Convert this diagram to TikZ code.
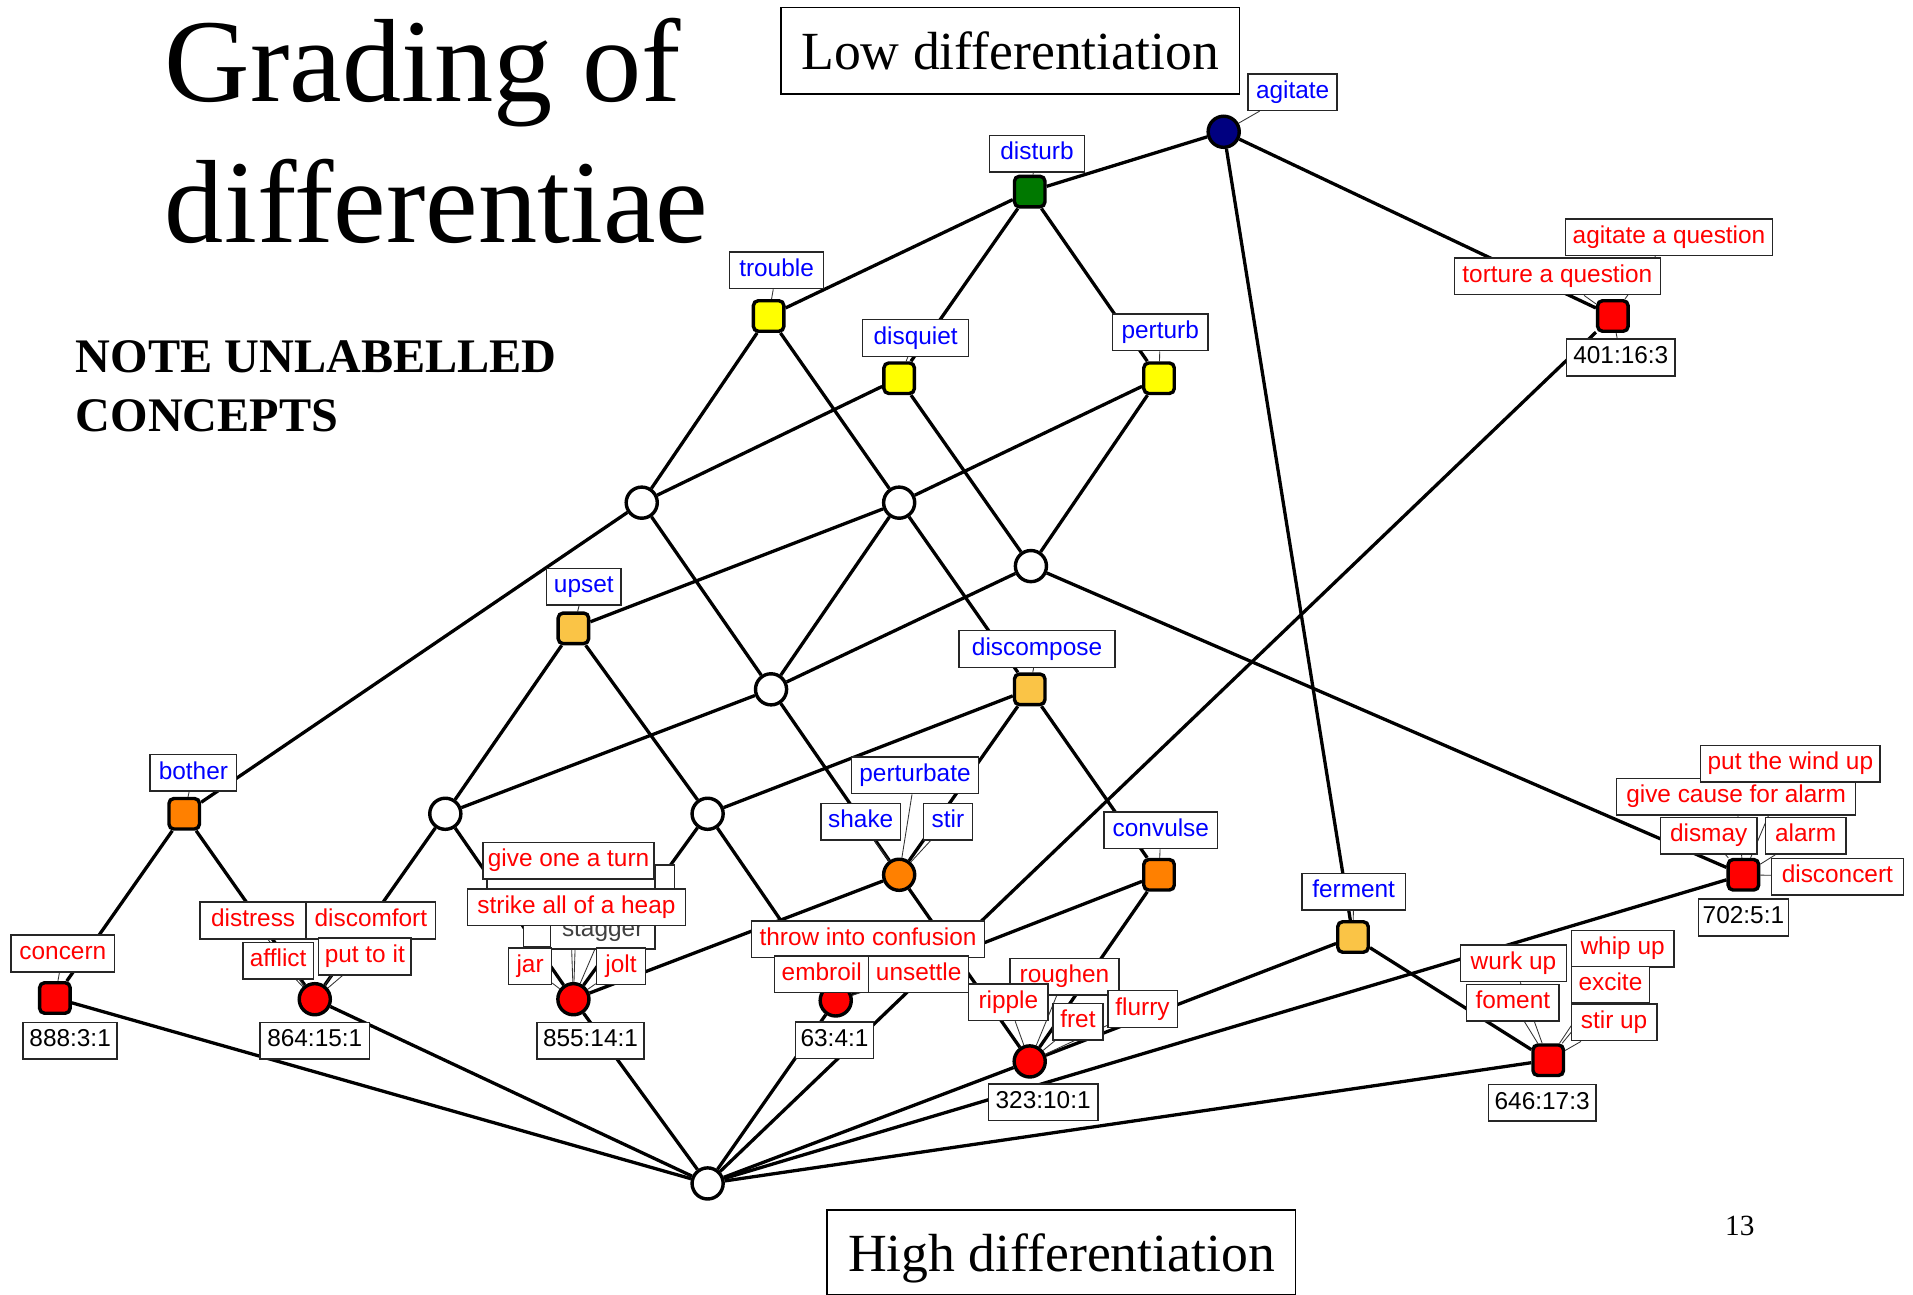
\documentclass[tikz,border=0pt]{standalone}
\usepackage{fontspec}
\setmainfont{Liberation Serif}
\newfontfamily\labfont{Liberation Sans}
\pgfdeclarelayer{bglayer}
\pgfdeclarelayer{edgelayer}
\pgfsetlayers{bglayer,edgelayer,main}
\definecolor{cyel}{RGB}{255,255,0}
\definecolor{cgreen}{RGB}{0,120,0}
\definecolor{cnavy}{RGB}{0,0,128}
\definecolor{clor}{RGB}{250,196,70}
\definecolor{cor}{RGB}{255,128,0}
\definecolor{cred}{RGB}{255,0,0}
\definecolor{cblue}{RGB}{0,0,255}
\tikzset{
 conn/.style={line width=2.7pt, black},
 leader/.style={line width=0.7pt, black!80},
 sq/.style={draw, line width=2.8pt, rounded corners=4pt, minimum size=25pt, inner sep=0pt},
 cir/.style={draw, circle, line width=2.8pt, minimum size=25.5pt, inner sep=0pt},
 lab/.style={draw=black!85, line width=1.2pt, fill=white, font=\labfont\fontsize{20}{20}\selectfont, minimum height=30pt, inner xsep=2pt, inner ysep=0pt, text height=14.5pt, text depth=4.5pt},
 bl/.style={lab, text=cblue},
 rd/.style={lab, text=cred},
 ct/.style={lab, text=black},
 bigbox/.style={draw=black, line width=1.3pt, inner sep=0pt, text depth=0pt, font=\fontsize{44}{44}\selectfont}
}
\begin{document}
\begin{tikzpicture}[x=1pt,y=-1pt]
\begin{pgfonlayer}{bglayer}
\fill[white] (0,0) rectangle (1568,1061);
\end{pgfonlayer}
\useasboundingbox (0,0) rectangle (1568,1061);

% titles
\node[anchor=base west, inner sep=0pt, font=\fontsize{97}{97}\selectfont] (t1) at (135,83) {Grading of};
\node[anchor=base west, inner sep=0pt, font=\fontsize{97}{97}\selectfont] (t2) at (135,199) {differentiae};
\node[anchor=base west, inner sep=0pt, font=\bfseries\fontsize{39.5}{39.5}\selectfont] (n1) at (62,305) {NOTE UNLABELLED};
\node[anchor=base west, inner sep=0pt, font=\bfseries\fontsize{39.5}{39.5}\selectfont] (n2) at (62,354) {CONCEPTS};
\node[bigbox, minimum width=376pt, minimum height=71pt] (low) at (828,41.5) {Low differentiation};
\node[bigbox, minimum width=384pt, minimum height=69pt] (high) at (870,1026.5) {High differentiation};
\node[font=\fontsize{24}{24}\selectfont, inner sep=0pt] (pg) at (1426,1005) {13};

% concept nodes
\node[cir, fill=cnavy] (agitate) at (1003,108) {};
\node[sq, fill=cgreen] (disturb) at (844,157) {};
\node[sq, fill=cyel] (trouble) at (630,259) {};
\node[sq, fill=cyel] (disquiet) at (737,310) {};
\node[sq, fill=cyel] (perturb) at (950,310) {};
\node[sq, fill=cred] (q401) at (1322,259) {};
\node[cir, fill=white] (u1) at (526,412) {};
\node[cir, fill=white] (u2) at (737,412) {};
\node[cir, fill=white] (u3) at (845,464) {};
\node[cir, fill=white] (u4) at (632,565) {};
\node[cir, fill=white] (u5) at (365,667) {};
\node[cir, fill=white] (u6) at (580,667) {};
\node[cir, fill=white] (bot) at (580,970) {};
\node[sq, fill=clor] (upset) at (470,515) {};
\node[sq, fill=clor] (discompose) at (844,565) {};
\node[sq, fill=cor] (bother) at (151,667) {};
\node[cir, fill=cor] (perturbate) at (737,717) {};
\node[sq, fill=cor] (convulse) at (950,717) {};
\node[sq, fill=clor] (ferment) at (1109,768) {};
\node[sq, fill=cred] (q702) at (1429,717) {};
\node[sq, fill=cred] (q888) at (45,818) {};
\node[cir, fill=cred] (q864) at (258,819) {};
\node[cir, fill=cred] (q855) at (470,819) {};
\node[cir, fill=cred] (q63) at (685,820) {};
\node[cir, fill=cred] (q323) at (844,870) {};
\node[sq, fill=cred] (q646) at (1269,869) {};

% blue labels
\node[bl, minimum width=73pt] (Lagitate) at (1059.5,75.5) {agitate};
\node[bl, minimum width=78pt] (Ldisturb) at (850,126) {disturb};
\node[bl, minimum width=77pt] (Ltrouble) at (636.5,221.5) {trouble};
\node[bl, minimum width=87pt] (Ldisquiet) at (750.5,277) {disquiet};
\node[bl, minimum width=78pt] (Lperturb) at (951,272.5) {perturb};
\node[bl, minimum width=61pt] (Lupset) at (478.5,481) {upset};
\node[bl, minimum width=128pt] (Ldiscompose) at (850,532) {discompose};
\node[bl, minimum width=71pt] (Lbother) at (158.5,633.5) {bother};
\node[bl, minimum width=104pt] (Lperturbate) at (750,635.5) {perturbate};
\node[bl, minimum width=65pt] (Lshake) at (705.5,673.5) {shake};
\node[bl, minimum width=40pt] (Lstir) at (777,673.5) {stir};
\node[bl, minimum width=93pt] (Lconvulse) at (951.5,680.5) {convulse};
\node[bl, minimum width=85pt] (Lferment) at (1109.5,731) {ferment};

% 401
\node[rd, minimum width=170pt] (Laq) at (1368,194.5) {agitate a question};
\node[rd, minimum width=169pt] (Ltq) at (1276.5,226.5) {torture a question};
\node[ct, minimum width=89pt] (C401) at (1328.5,293) {401:16:3};
% 702
\node[rd, minimum width=196pt] (Lgca) at (1423,653) {give cause for alarm};
\node[rd, minimum width=147pt] (Lptwu) at (1467.5,626) {put the wind up};
\node[rd, minimum width=79pt] (Ldismay) at (1400.5,685) {dismay};
\node[rd, minimum width=66pt] (Lalarm) at (1480,685) {alarm};
\node[rd, minimum width=108pt] (Ldisconcert) at (1506,718.5) {disconcert};
\node[ct, minimum width=74pt] (C702) at (1429,752) {702:5:1};
% 888
\node[rd, minimum width=85pt] (Lconcern) at (51.5,781.5) {concern};
\node[ct, minimum width=77pt] (C888) at (57.5,853) {888:3:1};
% 864
\node[rd, minimum width=87pt] (Ldistress) at (207.5,754.5) {distress};
\node[rd, minimum width=106pt] (Ldiscomfort) at (304,754.5) {discomfort};
\node[rd, minimum width=58pt] (Lafflict) at (228,787.5) {afflict};
\node[rd, minimum width=76pt] (Lputtoit) at (299,784) {put to it};
\node[ct, minimum width=90pt] (C864) at (258,853) {864:15:1};
% 855
\node[lab, minimum width=138pt] (Lhid1) at (468,726) {};
\node[lab, minimum width=16pt] (Lhid2) at (545,724) {};
\node[lab, minimum width=23pt] (Lhid3) at (440.5,761) {};
\node[ct, minimum width=86pt, text=black!75] (Lstagger) at (494,763) {stagger};
\node[rd, minimum width=140pt] (Lgoat) at (466,705.5) {give one a turn};
\node[rd, minimum width=179pt] (Lsaoah) at (472.5,743.5) {strike all of a heap};
\node[rd, minimum width=35pt] (Ljar) at (434.5,792) {jar};
\node[rd, minimum width=40pt] (Ljolt) at (509,792) {jolt};
\node[ct, minimum width=88pt] (C855) at (484,853) {855:14:1};
% 63
\node[rd, minimum width=191pt] (Ltic) at (711.5,770) {throw into confusion};
\node[rd, minimum width=77pt] (Lembroil) at (673.5,798.5) {embroil};
\node[rd, minimum width=82pt] (Lunsettle) at (753,798.5) {unsettle};
\node[ct, minimum width=64pt] (C63) at (684,852.5) {63:4:1};
% 323
\node[rd, minimum width=89pt] (Lroughen) at (872.5,800.5) {roughen};
\node[rd, minimum width=65pt] (Lripple) at (826.5,821.5) {ripple};
\node[rd, minimum width=41pt] (Lfret) at (883.5,837.5) {fret};
\node[rd, minimum width=57pt] (Lflurry) at (936.5,827) {flurry};
\node[ct, minimum width=90pt] (C323) at (855,903.5) {323:10:1};
% 646
\node[rd, minimum width=84pt] (Lwhip) at (1330,777.5) {whip up};
\node[rd, minimum width=64pt] (Lexcite) at (1320,807) {excite};
\node[rd, minimum width=70pt] (Lstirup) at (1323,838) {stir up};
\node[rd, minimum width=87pt] (Lwurk) at (1240.5,789.5) {wurk up};
\node[rd, minimum width=76pt] (Lfoment) at (1240,822) {foment};
\node[ct, minimum width=88pt] (C646) at (1264,904) {646:17:3};

\begin{pgfonlayer}{edgelayer}
% lattice edges
\draw[conn] (agitate) -- (disturb);
\draw[conn] (agitate) -- (q401);
\draw[conn] (agitate) -- (ferment);
\draw[conn] (disturb) -- (trouble);
\draw[conn] (disturb) -- (disquiet);
\draw[conn] (disturb) -- (perturb);
\draw[conn] (trouble) -- (u1);
\draw[conn] (trouble) -- (u2);
\draw[conn] (disquiet) -- (u1);
\draw[conn] (disquiet) -- (u3);
\draw[conn] (perturb) -- (u2);
\draw[conn] (perturb) -- (u3);
\draw[conn] (u1) -- (bother);
\draw[conn] (u1) -- (u4);
\draw[conn] (u2) -- (upset);
\draw[conn] (u2) -- (u4);
\draw[conn] (u2) -- (discompose);
\draw[conn] (u3) -- (u4);
\draw[conn] (u3) -- (q702);
\draw[conn] (upset) -- (u5);
\draw[conn] (upset) -- (u6);
\draw[conn] (u4) -- (u5);
\draw[conn] (u4) -- (perturbate);
\draw[conn] (discompose) -- (u6);
\draw[conn] (discompose) -- (perturbate);
\draw[conn] (discompose) -- (convulse);
\draw[conn] (bother) -- (q888);
\draw[conn] (bother) -- (q864);
\draw[conn] (u5) -- (q864);
\draw[conn] (u5) -- (q855);
\draw[conn] (u6) -- (q855);
\draw[conn] (u6) -- (q63);
\draw[conn] (perturbate) -- (q855);
\draw[conn] (perturbate) -- (q323);
\draw[conn] (convulse) -- (q63);
\draw[conn] (convulse) -- (q323);
\draw[conn] (ferment) -- (q323);
\draw[conn] (ferment) -- (q646);
\foreach \n in {q888,q864,q855,q63,q401,q323,q702,q646}
  \draw[conn] (bot) -- (\n);
% leader lines from labels to concepts
\foreach \l/\n in {Lagitate/agitate, Ldisturb/disturb, Ltrouble/trouble, Ldisquiet/disquiet,
  Lperturb/perturb, Lupset/upset, Ldiscompose/discompose, Lbother/bother,
  Lperturbate/perturbate, Lshake/perturbate, Lstir/perturbate, Lconvulse/convulse, Lferment/ferment,
  Laq/q401, Ltq/q401, C401/q401,
  Lgca/q702, Lptwu/q702, Ldismay/q702, Lalarm/q702, Ldisconcert/q702,
  Lconcern/q888, Ldistress/q864, Ldiscomfort/q864, Lafflict/q864, Lputtoit/q864,
  Lgoat/q855, Lsaoah/q855, Lstagger/q855, Ljar/q855, Ljolt/q855,
  Ltic/q63, Lembroil/q63, Lunsettle/q63,
  Lroughen/q323, Lripple/q323, Lfret/q323, Lflurry/q323,
  Lwhip/q646, Lexcite/q646, Lstirup/q646, Lwurk/q646, Lfoment/q646}
  \draw[leader] (\l) -- (\n);
\end{pgfonlayer}
\end{tikzpicture}
\end{document}
